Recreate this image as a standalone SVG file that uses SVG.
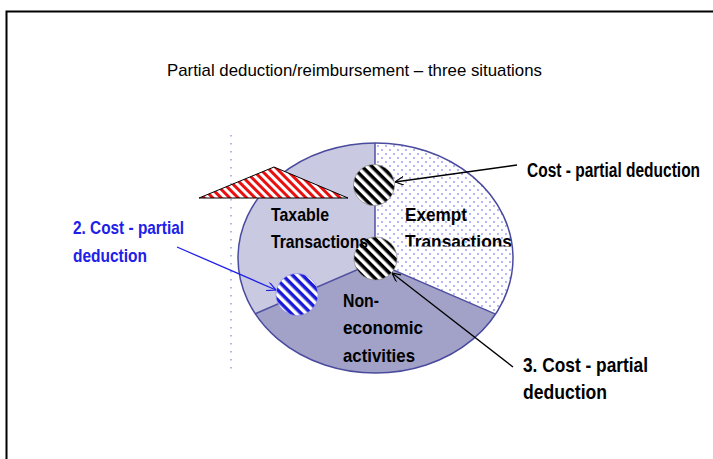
<svg xmlns="http://www.w3.org/2000/svg" width="713" height="459" viewBox="0 0 713 459">
<style>
.t{font-family:"Liberation Sans",Arial,sans-serif;}
.b{font-family:"Liberation Sans",Arial,sans-serif;font-weight:bold;font-size:19px;fill:#000;}
.blue{fill:#2020e8;}
.seg{stroke:none;}
.div{stroke:#5050a0;stroke-width:1.5;fill:none;}
.arr{fill:none;stroke-width:1.3;}
</style>
<defs>
<pattern id="dots" width="8" height="8" patternUnits="userSpaceOnUse">
<rect width="8" height="8" fill="#fff"/>
<circle cx="2" cy="2" r="0.8" fill="#5a5af0"/>
<circle cx="6" cy="6" r="0.8" fill="#5a5af0"/>
</pattern>
<pattern id="bw" width="20" height="7" patternUnits="userSpaceOnUse" patternTransform="rotate(45)">
<rect width="20" height="7" fill="#fff"/>
<rect width="20" height="3.5" fill="#000"/>
</pattern>
<pattern id="bluew" width="20" height="7" patternUnits="userSpaceOnUse" patternTransform="rotate(45)">
<rect width="20" height="7" fill="#fff"/>
<rect width="20" height="3.5" fill="#1a1ad8"/>
</pattern>
<pattern id="redw" width="20" height="6" patternUnits="userSpaceOnUse" patternTransform="rotate(45)">
<rect width="20" height="6" fill="#fff"/>
<rect width="20" height="3" fill="#e81010"/>
</pattern>
<marker id="ah" viewBox="0 0 10 10" refX="10" refY="5" markerWidth="9" markerHeight="9" markerUnits="userSpaceOnUse" orient="auto">
<path d="M0,0 L10,5 L0,10" fill="none" stroke="#000" stroke-width="1.3"/>
</marker>
<marker id="ahb" viewBox="0 0 10 10" refX="10" refY="5" markerWidth="9" markerHeight="9" markerUnits="userSpaceOnUse" orient="auto">
<path d="M0,0 L10,5 L0,10" fill="none" stroke="#2020e8" stroke-width="1.3"/>
</marker>
<clipPath id="exclip"><rect x="395" y="195" width="130" height="51.5"/></clipPath>
</defs>
<rect width="713" height="459" fill="#fff"/>
<path d="M6.5,459 L6.5,11.5 L713,11.5" fill="none" stroke="#000" stroke-width="2"/>
<text class="t" x="167" y="76" font-size="17" textLength="375" lengthAdjust="spacingAndGlyphs">Partial deduction/reimbursement – three situations</text>
<line x1="231" y1="135" x2="231" y2="372" stroke="#a0a0e0" stroke-width="1.5" stroke-dasharray="1.5 6.5"/>

<g id="pie">
<path class="seg" d="M375,262 L375,143 A137.5,115 0 0,0 255.3,313.8 Z" fill="#c9c9e1"/>
<path class="seg" d="M375,262 L375,143 A137.5,115 0 0,1 495.6,314.1 Z" fill="url(#dots)"/>
<path class="seg" d="M375,262 L495.6,314.1 A137.5,115 0 0,1 255.3,313.8 Z" fill="#a2a2c9"/>
<path class="div" d="M375,143 L375,262 M255.3,313.8 L375,262 L495.6,314.1"/>
<ellipse cx="375.5" cy="258" rx="137.5" ry="115" fill="none" stroke="#4a4a9e" stroke-width="1.5"/>
</g>

<g id="triangle">
<polygon points="199,198 274,167 348,198" fill="url(#redw)" stroke="#000" stroke-width="1"/>
</g>

<g id="circle1">
<circle cx="374" cy="185" r="20.5" fill="url(#bw)" stroke="#888" stroke-width="0.7"/>
</g>
<g id="circle2">
<circle cx="375.5" cy="258.5" r="21.5" fill="url(#bw)" stroke="#888" stroke-width="0.7"/>
</g>
<g id="circle3">
<circle cx="297" cy="294.5" r="21" fill="url(#bluew)" stroke="#9090e8" stroke-width="0.7"/>
</g>

<g id="taxable">
<text class="b" x="271" y="221" textLength="58" lengthAdjust="spacingAndGlyphs">Taxable</text>
<text class="b" x="271" y="248" textLength="97" lengthAdjust="spacingAndGlyphs">Transactions</text>
</g>
<g id="exempt" clip-path="url(#exclip)">
<text class="b" x="405" y="221" textLength="62" lengthAdjust="spacingAndGlyphs">Exempt</text>
<text class="b" x="405" y="248" textLength="107" lengthAdjust="spacingAndGlyphs">Transactions</text>
</g>
<g id="noneco">
<text class="b" x="343" y="307" textLength="36" lengthAdjust="spacingAndGlyphs">Non-</text>
<text class="b" x="343" y="334" textLength="80" lengthAdjust="spacingAndGlyphs">economic</text>
<text class="b" x="343" y="362" textLength="72" lengthAdjust="spacingAndGlyphs">activities</text>
</g>

<g id="label1">
<text class="b" transform="translate(527,177) scale(0.795,1)" x="0" y="0" style="font-size:19.5px">Cost - partial deduction</text>
</g>
<g id="label2">
<text class="b blue" x="73" y="234" textLength="111" lengthAdjust="spacingAndGlyphs">2. Cost - partial</text>
<text class="b blue" x="73" y="262" textLength="74" lengthAdjust="spacingAndGlyphs">deduction</text>
</g>
<g id="label3">
<text class="b" x="523" y="372" style="font-size:21px" textLength="125" lengthAdjust="spacingAndGlyphs">3. Cost - partial</text>
<text class="b" x="523" y="399" style="font-size:21px" textLength="84" lengthAdjust="spacingAndGlyphs">deduction</text>
</g>

<g id="connectors">
<line class="arr" x1="517" y1="165" x2="395" y2="182" stroke="#000" marker-end="url(#ah)"/>
<line class="arr" x1="177" y1="247" x2="276" y2="290" stroke="#2020e8" marker-end="url(#ahb)"/>
<line class="arr" x1="513" y1="367" x2="392" y2="273" stroke="#000" marker-end="url(#ah)"/>
</g>
</svg>
